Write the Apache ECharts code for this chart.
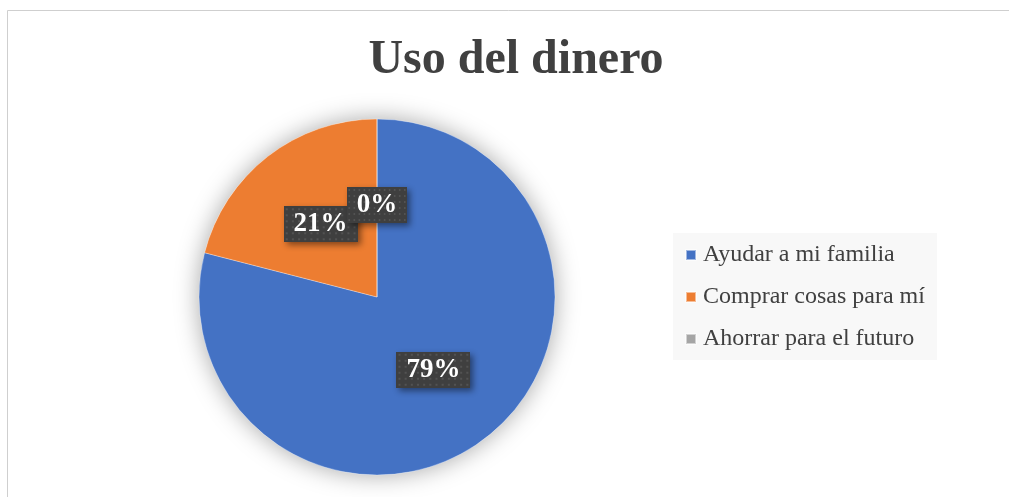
<!DOCTYPE html>
<html lang="es">
<head>
    <meta charset="UTF-8">
    <title>Uso del dinero</title>
    <script src="https://cdn.jsdelivr.net/npm/echarts@6/dist/echarts.min.js"></script>
    <style>
        html, body { margin: 0; padding: 0; background: #fff; }
        #main { width: 1009px; height: 497px; }
    </style>
</head>
<body>
<div id="main"></div>
<script>
    // datos
    var titulo = 'Uso del dinero';
    var categorias = ['Ayudar a mi familia', 'Comprar cosas para mí', 'Ahorrar para el futuro'];
    var porcentajes = [79, 21, 0];
    var colores = ['#4472C4', '#ED7D31', '#A5A5A5'];

    var serif = '"Liberation Serif", "Times New Roman", serif';

    // fondo punteado de las etiquetas (como el de Excel)
    function fondoPunteado() {
        var cv = document.createElement('canvas');
        cv.width = 72;
        cv.height = 36;
        var ctx = cv.getContext('2d');
        ctx.fillStyle = '#3f3f3f';
        ctx.fillRect(0, 0, cv.width, cv.height);
        ctx.fillStyle = '#525252';
        for (var y = 2; y < cv.height; y += 6) {
            for (var x = 2; x < cv.width; x += 6) {
                ctx.fillRect(x, y, 2, 2);
            }
        }
        return cv;
    }

    var datos = categorias.map(function (c, i) {
        return { name: c, value: porcentajes[i], itemStyle: { color: colores[i] } };
    });

    var chart = echarts.init(document.getElementById('main'));
    chart.setOption({
        animation: false,
        title: {
            text: titulo,
            left: 511,
            textAlign: 'center',
            top: 32,
            textStyle: { fontFamily: serif, fontSize: 48, fontWeight: 'bold', color: '#404040' }
        },
        graphic: [{
            type: 'rect',
            shape: { x: 7.5, y: 10.5, width: 1100, height: 600 },
            style: { fill: 'none', stroke: '#cfcfcf', lineWidth: 1 },
            z: -10
        }],
        legend: {
            orient: 'vertical',
            left: 673,
            top: 233,
            padding: [10, 12, 9, 12],
            itemGap: 18,
            itemWidth: 10,
            itemHeight: 10,
            icon: 'rect',
            backgroundColor: '#f8f8f8',
            data: categorias,
            textStyle: { fontFamily: serif, fontSize: 24, color: '#404040', padding: [0, 0, 0, 2] }
        },
        series: [
            {
                // sombra suave detras del pastel
                type: 'pie',
                silent: true,
                center: [377, 297],
                radius: 178,
                z: 1,
                label: { show: false },
                labelLine: { show: false },
                data: [{ name: '_sombra', value: 1, itemStyle: {
                    color: '#ffffff', shadowBlur: 24, shadowColor: 'rgba(0,0,0,0.35)'
                } }]
            },
            {
                type: 'pie',
                center: [377, 297],
                radius: 178,
                startAngle: 90,
                clockwise: true,
                z: 2,
                minShowLabelAngle: 0,
                avoidLabelOverlap: false,
                labelLayout: { hideOverlap: false },
                data: datos,
                itemStyle: { borderColor: 'rgba(255,255,255,0.5)', borderWidth: 0.6 },
                labelLine: { show: false },
                label: {
                    show: true,
                    position: 'inside',
                    formatter: '{c}%',
                    fontFamily: serif,
                    fontSize: 27,
                    fontWeight: 'bold',
                    color: '#ffffff',
                    backgroundColor: { image: fondoPunteado() },
                    padding: [5, 10, 4, 10],
                    shadowColor: 'rgba(0,0,0,0.45)',
                    shadowBlur: 6,
                    shadowOffsetX: 3,
                    shadowOffsetY: 3
                },
                emphasis: { scale: false }
            }
        ]
    });
</script>
</body>
</html>
